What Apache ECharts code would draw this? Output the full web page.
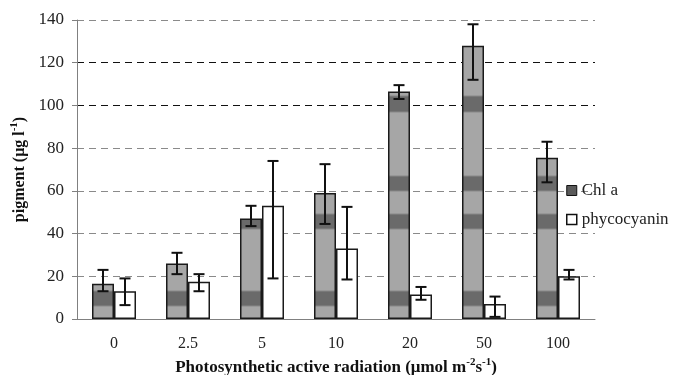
<!DOCTYPE html>
<html>
<head>
<meta charset="utf-8">
<script src="https://cdn.jsdelivr.net/npm/echarts@6/dist/echarts.min.js"></script>
<style>html,body{margin:0;padding:0;background:#fff;}#c{width:677px;height:375px;}</style>
</head>
<body>
<div id="c"></div>
<script>
const categories = ['0', '2.5', '5', '10', '20', '50', '100'];
const chlA = [16.5, 26, 47, 59, 106.5, 128, 75.5];
const chlLow = [13, 21, 43.5, 44.5, 103, 112, 64];
const chlHigh = [23, 31, 53, 72.5, 109.5, 138, 83];
const phyco = [13, 17.5, 53, 33, 11.5, 7, 20];
const phyLow = [6.5, 13, 19, 18.5, 9, 1, 18.5];
const phyHigh = [19, 21, 74, 52.5, 15, 10.5, 23];
const yTicks = [0, 20, 40, 60, 80, 100, 120, 140];

const FONT = 'Liberation Serif';
const BAR_W = 22;
const base = '#a6a6a6', band = '#6a6a6a';
function bandStops(ranges) {
  const s = [{offset: 0, color: base}];
  ranges.forEach(([a, b]) => {
    s.push({offset: a / 375, color: base});
    s.push({offset: (a + 2) / 375, color: band});
    s.push({offset: (b - 2) / 375, color: band});
    s.push({offset: b / 375, color: base});
  });
  s.push({offset: 1, color: base});
  return s;
}
const chlFill = {
  type: 'linear', x: 0, y: 0, x2: 0, y2: 375, global: true,
  colorStops: bandStops([[95, 113], [175, 192], [213, 230], [290, 307]])
};

function errRender(offset, cap) {
  return function (params, api) {
    const i = api.value(0);
    const lo = api.coord([i, api.value(1)]);
    const hi = api.coord([i, api.value(2)]);
    const x = lo[0] + offset;
    const st = {stroke: '#111', lineWidth: 2};
    return {
      type: 'group',
      children: [
        {type: 'line', shape: {x1: x, y1: lo[1], x2: x, y2: hi[1]}, style: st},
        {type: 'line', shape: {x1: x - cap, y1: lo[1], x2: x + cap, y2: lo[1]}, style: st},
        {type: 'line', shape: {x1: x - cap, y1: hi[1], x2: x + cap, y2: hi[1]}, style: st}
      ]
    };
  };
}

const gridColors = yTicks.map(v => (v === 100 || v === 120) ? '#111' : '#8a8a8a');

const chart = echarts.init(document.getElementById('c'));
chart.setOption({
  animation: false,
  backgroundColor: '#fff',
  grid: {left: 77, right: 82, top: 20, bottom: 56, containLabel: false, outerBoundsMode: 'none'},
  legend: {
    orient: 'vertical', left: 566, top: 182, padding: 0, itemWidth: 10, itemHeight: 10, itemGap: 12,
    icon: 'rect',
    textStyle: {fontFamily: FONT, fontSize: 17, color: '#222'},
    data: [
      {name: 'Chl a', itemStyle: {color: '#5a5a5a', borderColor: '#111', borderWidth: 1}},
      {name: 'phycocyanin', itemStyle: {color: '#fff', borderColor: '#111', borderWidth: 1.5}}
    ]
  },
  xAxis: {
    type: 'category', data: categories,
    axisLine: {lineStyle: {color: '#808080', width: 1}},
    axisTick: {show: false},
    axisLabel: {fontFamily: FONT, fontSize: 16, color: '#222', margin: 17},
    name: '{b|Photosynthetic active radiation (μmol m}{s|-2}{b|s}{s|-1}{b|)}',
    nameLocation: 'middle', nameGap: 32,
    nameTextStyle: {
      rich: {
        b: {fontFamily: FONT, fontSize: 17, fontWeight: 'bold', color: '#111'},
        s: {fontFamily: FONT, fontSize: 11, fontWeight: 'bold', color: '#111', padding: [0, 0, 10, 0]}
      }
    }
  },
  yAxis: {
    type: 'value', min: 0, max: 140, interval: 20,
    axisLine: {show: true, lineStyle: {color: '#808080', width: 1}},
    axisTick: {show: true, length: 5, lineStyle: {color: '#808080'}},
    axisLabel: {fontFamily: FONT, fontSize: 17, color: '#222', margin: 13},
    splitLine: {show: true, lineStyle: {color: gridColors, type: [7, 5], width: 1}},
    name: '{b|pigment (μg l}{s|-1}{b|)}',
    nameLocation: 'middle', nameGap: 45, nameRotate: 90,
    nameTextStyle: {
      rich: {
        b: {fontFamily: FONT, fontSize: 16, fontWeight: 'bold', color: '#111'},
        s: {fontFamily: FONT, fontSize: 11, fontWeight: 'bold', color: '#111', padding: [0, 0, 10, 0]}
      }
    }
  },
  series: [
    {
      name: 'Chl a', type: 'bar', data: chlA, barWidth: BAR_W, barGap: '0%',
      itemStyle: {color: chlFill, borderColor: '#1a1a1a', borderWidth: 1.5}
    },
    {
      name: 'phycocyanin', type: 'bar', data: phyco, barWidth: BAR_W, barGap: '0%',
      itemStyle: {color: '#fff', borderColor: '#1a1a1a', borderWidth: 1.5}
    },
    {
      type: 'custom', name: 'chlErr', z: 5, silent: true,
      renderItem: errRender(-BAR_W / 2, 5.5),
      encode: {x: 0, y: [1, 2]},
      data: chlLow.map((v, i) => [i, v, chlHigh[i]])
    },
    {
      type: 'custom', name: 'phyErr', z: 5, silent: true,
      renderItem: errRender(BAR_W / 2, 5.5),
      encode: {x: 0, y: [1, 2]},
      data: phyLow.map((v, i) => [i, v, phyHigh[i]])
    }
  ]
});
</script>
</body>
</html>
